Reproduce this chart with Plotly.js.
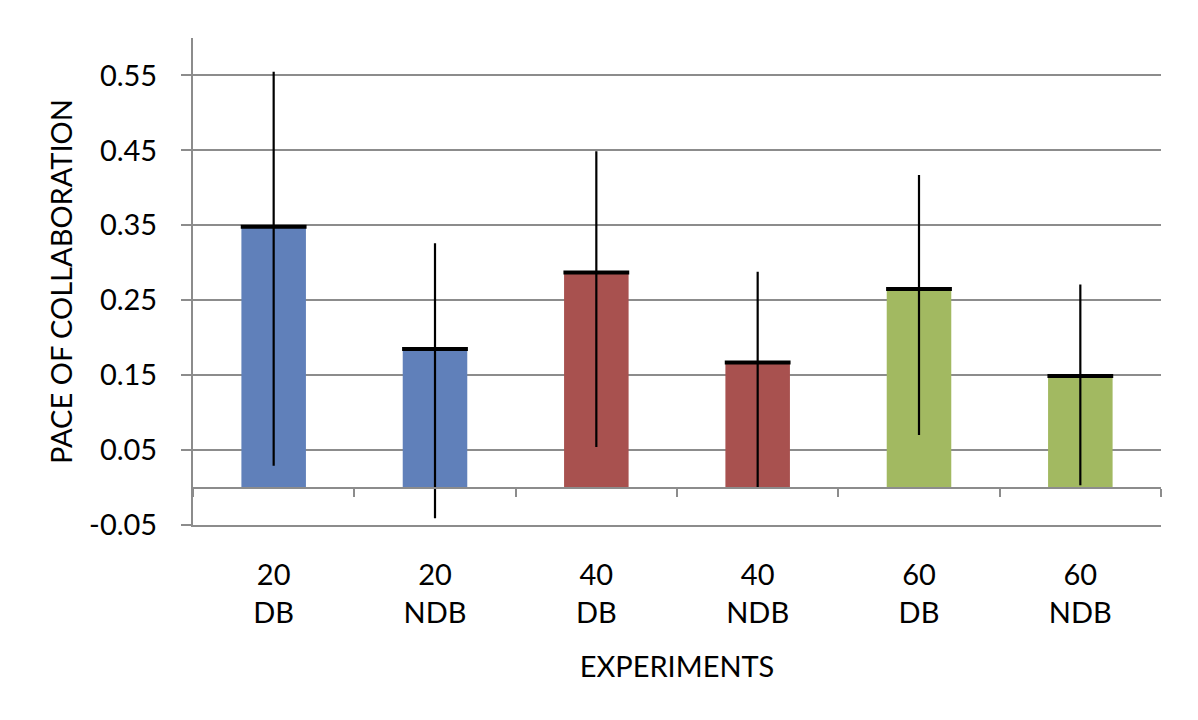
<!DOCTYPE html>
<html>
<head>
<meta charset="utf-8">
<script src="https://cdn.plot.ly/plotly-3.0.1.min.js"></script>
<style>
  body { margin: 0; background: #fff; }
  #graphDiv { width: 1198px; height: 720px; }
</style>
</head>
<body>
<div id="graphDiv"></div>
<script>
// Values
let groupSizes = ['20', '20', '40', '40', '60', '60'];
let groupTypes = ['DB', 'NDB', 'DB', 'NDB', 'DB', 'NDB'];
let paceMeans  = [0.348, 0.185, 0.287, 0.167, 0.265, 0.149];
let paceHigh   = [0.555, 0.326, 0.449, 0.288, 0.417, 0.271];  // top of whisker
let paceLow    = [0.029, -0.041, 0.054, -0.001, 0.070, 0.003]; // bottom of whisker
let barColors  = ['#6080BA', '#6080BA', '#A8514F', '#A8514F', '#A2B961', '#A2B961'];
let yTickLabels = ['-0.05', '0.05', '0.15', '0.25', '0.35', '0.45', '0.55'];

function init() {
    let graphDiv = document.getElementById('graphDiv');

    let categories = groupSizes.map((s, i) => s + '<br>' + groupTypes[i]);
    let errPlus  = paceHigh.map((v, i) => v - paceMeans[i]);
    let errMinus = paceMeans.map((v, i) => v - paceLow[i]);

    let yMin = -0.05;
    let yMax = 0.6;
    let grey = '#8C8C8C';
    let fontFamily = 'Lato, "Open Sans", sans-serif';

    let data = [{
        // the bars with their whiskers
        x: categories,
        y: paceMeans,
        type: 'bar',
        marker: { color: barColors },
        error_y: {
            type: 'data',
            symmetric: false,
            array: errPlus,
            arrayminus: errMinus,
            color: '#000',
            thickness: 2.2,
            width: 0
        },
        hoverinfo: 'skip'
    }, {
        // black line across the top of every bar
        x: categories,
        y: paceMeans,
        xaxis: 'x2',
        type: 'scatter',
        mode: 'markers',
        marker: {
            symbol: 'line-ew',
            size: 47,
            color: '#000',
            line: { color: '#000', width: 4 }
        },
        hoverinfo: 'skip'
    }];

    let layout = {
        width: 1198,
        height: 720,
        margin: { l: 193, r: 37, t: 38, b: 195 },
        paper_bgcolor: '#fff',
        plot_bgcolor: '#fff',
        showlegend: false,
        bargap: 0.6,
        font: { family: fontFamily, size: 29, color: '#000' },
        xaxis: {
            type: 'category',
            range: [-0.5, categories.length - 0.5],
            showline: true,
            linecolor: grey,
            linewidth: 2,
            showgrid: false,
            zeroline: false,
            ticks: '',
            ticklabelstandoff: 23,
            tickfont: { size: 29 },
            title: { text: 'EXPERIMENTS', font: { size: 29 }, standoff: 29 }
        },
        xaxis2: {
            // the category axis drawn where y = 0, ticks between the groups
            type: 'category',
            overlaying: 'x',
            anchor: 'free',
            position: (0 - yMin) / (yMax - yMin),
            range: [-0.5, categories.length - 0.5],
            showline: true,
            linecolor: grey,
            linewidth: 2,
            ticks: 'outside',
            tickson: 'boundaries',
            ticklen: 8,
            tickwidth: 2,
            tickcolor: grey,
            showticklabels: false,
            showgrid: false,
            zeroline: false
        },
        yaxis: {
            range: [yMin, yMax],
            tickvals: yTickLabels.map(Number),
            ticktext: yTickLabels,
            showline: true,
            linecolor: grey,
            linewidth: 2,
            ticks: 'outside',
            ticklen: 10,
            tickwidth: 2,
            tickcolor: grey,
            showgrid: true,
            gridcolor: grey,
            gridwidth: 2,
            zeroline: false,
            ticklabelstandoff: 18,
            tickfont: { size: 29 },
            title: { text: 'PACE OF COLLABORATION', font: { size: 29 }, standoff: 8 }
        }
    };

    Plotly.newPlot(graphDiv, data, layout, { staticPlot: true });
}

init();
</script>
</body>
</html>
